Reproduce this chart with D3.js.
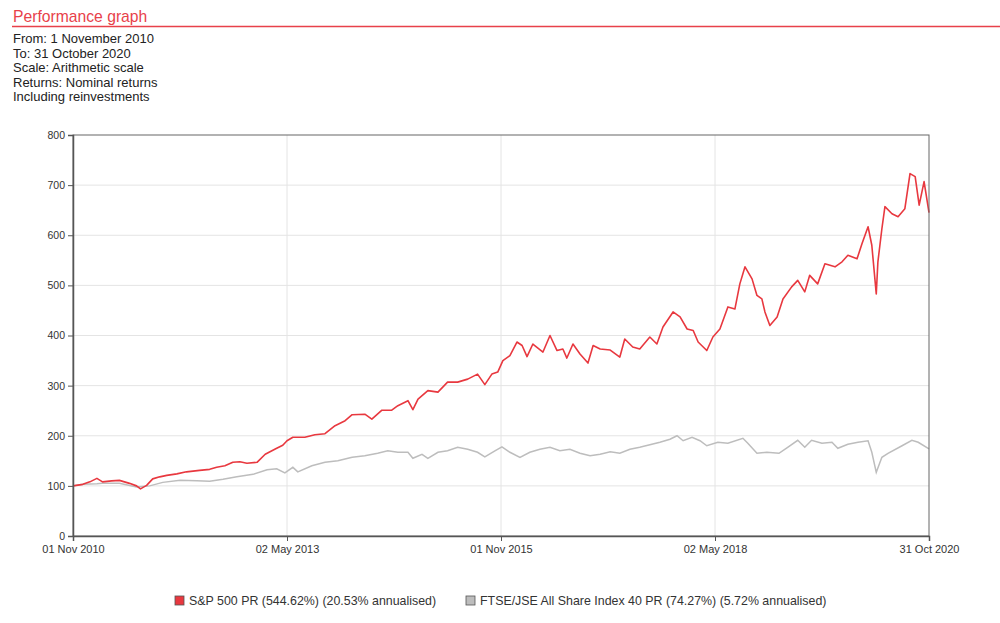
<!DOCTYPE html>
<meta charset="utf-8">
<style>
body { margin: 0; background: #fff; }
svg { font-family: "Liberation Sans", Arial, sans-serif; }
.axis text { font-size: 10.5px; fill: #333; }
.axis.x text { font-size: 11px; }
.axis path, .axis line { stroke: #555; }
.grid line { stroke: #e4e4e4; }
.info { font-size: 13px; fill: #222; }
.legend text { font-size: 12.4px; fill: #333; }
</style>
<svg width="1000" height="623"></svg>
<script src="https://d3js.org/d3.v7.min.js"></script>
<script>

// S&P 500 PR, indexed to 100
var spDates = ["2010-11-01","2010-12-13","2011-01-12","2011-02-11","2011-03-07","2011-04-15","2011-05-18","2011-06-30",
  "2011-07-30","2011-08-16","2011-09-11","2011-10-07","2011-11-06","2011-12-06","2012-01-18","2012-02-28","2012-04-24",
  "2012-06-06","2012-07-06","2012-08-10","2012-09-13","2012-10-13","2012-11-12","2012-12-25","2013-01-29","2013-03-19",
  "2013-04-14","2013-05-02","2013-05-27","2013-07-17","2013-08-29","2013-10-11","2013-11-23","2014-01-05","2014-02-04",
  "2014-03-30","2014-04-29","2014-06-11","2014-07-23","2014-08-18","2014-09-30","2014-10-21","2014-11-12","2014-12-24",
  "2015-02-05","2015-03-18","2015-04-30","2015-06-12","2015-07-24","2015-08-24","2015-09-23","2015-10-18","2015-11-09",
  "2015-12-09","2016-01-08","2016-01-30","2016-02-20","2016-03-16","2016-04-28","2016-05-28","2016-06-27","2016-07-22",
  "2016-08-08","2016-09-03","2016-10-03","2016-11-06","2016-11-28","2016-12-28","2017-02-09","2017-03-22","2017-04-12",
  "2017-05-16","2017-06-15","2017-07-28","2017-08-27","2017-09-22","2017-11-04","2017-12-04","2018-01-03","2018-01-29",
  "2018-02-19","2018-03-28","2018-04-23","2018-05-23","2018-06-26","2018-07-26","2018-08-16","2018-09-07","2018-10-07",
  "2018-10-28","2018-11-18","2018-12-01","2018-12-22","2019-01-22","2019-02-16","2019-03-25","2019-04-20","2019-05-20",
  "2019-06-10","2019-07-14","2019-08-14","2019-09-26","2019-10-26","2019-11-20","2019-12-29","2020-01-19","2020-02-14",
  "2020-03-01","2020-03-20","2020-03-27","2020-04-13","2020-04-26","2020-05-26","2020-06-21","2020-07-20","2020-08-11",
  "2020-09-02","2020-09-19","2020-10-10","2020-10-31"];
var spValues = [100,103,108,115,108,110,111,105,
  100,94,101,114,118,121,124,128,131,
  133,137,140,147,148,145,147,163,175,
  181,190,197,197,202,204,220,230,242,
  243,233,251,251,260,270,252,273,290,
  287,307,307,313,323,302,323,327,350,
  360,387,380,358,383,367,400,370,373,
  355,383,363,345,380,373,371,357,393,
  377,373,397,383,417,447,437,413,410,
  387,370,397,413,457,453,503,537,513,
  480,473,447,420,437,473,497,510,487,
  520,503,543,537,547,560,553,583,617,
  580,483,547,613,657,643,637,653,723,
  717,660,707,645];

// FTSE/JSE All Share Index 40 PR, indexed to 100
var jseDates = ["2010-11-01","2010-12-13","2011-02-11","2011-03-07","2011-05-18","2011-07-30","2011-09-24","2011-11-19",
  "2012-02-01","2012-04-12","2012-06-06","2012-08-02","2012-09-30","2012-12-08","2013-02-06","2013-03-19","2013-04-23",
  "2013-05-27","2013-06-17","2013-08-16","2013-10-11","2013-12-05","2014-02-04","2014-03-30","2014-05-24","2014-07-06",
  "2014-08-18","2014-09-30","2014-10-21","2014-11-29","2014-12-24","2015-02-05","2015-03-18","2015-04-30","2015-06-12",
  "2015-07-24","2015-08-24","2015-10-06","2015-11-05","2015-12-09","2016-01-21","2016-03-03","2016-04-15","2016-05-28",
  "2016-07-09","2016-08-21","2016-10-03","2016-11-15","2016-12-28","2017-02-09","2017-03-22","2017-05-04","2017-06-15",
  "2017-07-28","2017-09-09","2017-10-22","2017-11-21","2017-12-17","2018-01-24","2018-02-27","2018-03-28","2018-05-14",
  "2018-06-26","2018-08-29","2018-09-19","2018-10-28","2018-12-09","2019-01-30","2019-03-08","2019-04-20","2019-05-20",
  "2019-06-18","2019-08-01","2019-09-13","2019-10-08","2019-11-20","2020-01-02","2020-02-14","2020-03-01","2020-03-20",
  "2020-04-13","2020-05-09","2020-07-08","2020-08-19","2020-09-15","2020-10-31"];
var jseValues = [100,103,104,105,105,98,100,107,
  111,110,109,113,118,123,132,134,126,
  137,128,140,147,150,157,160,165,170,
  167,167,155,163,155,167,170,177,173,
  167,158,170,178,167,157,167,173,177,
  170,173,165,160,163,168,165,173,177,
  182,187,193,200,190,197,190,180,187,
  185,195,185,165,167,165,177,191,177,
  191,185,187,175,183,187,190,167,127,
  157,165,180,191,187,174];

var xTickDates = ["2010-11-01","2013-05-02","2015-11-01","2018-05-02","2020-10-31"];
var xTickLabels = ["01 Nov 2010","02 May 2013","01 Nov 2015","02 May 2018","31 Oct 2020"];
var yTicks = [0,100,200,300,400,500,600,700,800];

var infoLines = ["From: 1 November 2010","To: 31 October 2020","Scale: Arithmetic scale",
  "Returns: Nominal returns","Including reinvestments"];
var legendLabels = ["S&P 500 PR (544.62%) (20.53% annualised)",
  "FTSE/JSE All Share Index 40 PR (74.27%) (5.72% annualised)"];

var parse = d3.timeParse("%Y-%m-%d");

var svg = d3.select("svg");

// header
svg.append("text")
    .attr("x", 13).attr("y", 22)
    .attr("font-size", "15.7px").attr("fill", "#e8414a")
    .text("Performance graph");
svg.append("line")
    .attr("x1", 12).attr("x2", 1000).attr("y1", 26.5).attr("y2", 26.5)
    .attr("stroke", "#e8414a").attr("stroke-width", 1.3);
svg.selectAll(".info").data(infoLines).enter().append("text")
    .attr("class", "info")
    .attr("x", 13)
    .attr("y", function(d, i) { return 43 + i * 14.6; })
    .text(function(d) { return d; });

var margin = {left: 73, top: 135, right: 71, bottom: 87},
    width = 1000 - margin.left - margin.right,
    height = 623 - margin.top - margin.bottom;

var g = svg.append("g").attr("transform", "translate(" + margin.left + "," + margin.top + ")");

var x = d3.scaleTime()
    .domain([parse("2010-11-01"), parse("2020-10-31")])
    .range([0, width]);
var y = d3.scaleLinear().domain([0, 800]).range([height, 0]);

// grid
g.append("g").attr("class", "grid")
  .selectAll("line.h").data(yTicks.slice(1, -1)).enter().append("line")
    .attr("x1", 0).attr("x2", width)
    .attr("y1", function(d) { return y(d); }).attr("y2", function(d) { return y(d); });
g.append("g").attr("class", "grid")
  .selectAll("line.v").data(xTickDates.slice(1, -1)).enter().append("line")
    .attr("y1", 0).attr("y2", height)
    .attr("x1", function(d) { return x(parse(d)); }).attr("x2", function(d) { return x(parse(d)); });

// lines
var line = d3.line()
    .x(function(d) { return x(d.date); })
    .y(function(d) { return y(d.value); });

function series(dates, values) {
  return dates.map(function(d, i) { return {date: parse(d), value: values[i]}; });
}

g.append("path")
    .datum(series(jseDates, jseValues))
    .attr("fill", "none").attr("stroke", "#bdbdbd").attr("stroke-width", 1.5)
    .attr("d", line);
g.append("path")
    .datum(series(spDates, spValues))
    .attr("fill", "none").attr("stroke", "#e8383f").attr("stroke-width", 1.6)
    .attr("stroke-linejoin", "round")
    .attr("d", line);

// frame
g.append("rect")
    .attr("width", width).attr("height", height)
    .attr("fill", "none").attr("stroke", "#666").attr("stroke-width", 1);

// axes
g.append("g").attr("class", "axis x")
    .attr("transform", "translate(0," + height + ")")
    .call(d3.axisBottom(x)
      .tickValues(xTickDates.map(parse))
      .tickSize(5)
      .tickFormat(function(d, i) { return xTickLabels[i]; }))
    .call(function(a) { a.selectAll("text").attr("dy", "0.85em"); a.select(".domain").attr("stroke-width", 1.5); });

g.append("g").attr("class", "axis y")
    .call(d3.axisLeft(y).tickValues(yTicks).tickSize(5).tickPadding(3))
    .call(function(a) { a.select(".domain").attr("stroke-width", 1.5); });

// legend
var legendX = [175, 466];
var legendColors = ["#e8383f", "#bdbdbd"];
var legend = svg.append("g").attr("class", "legend");
legendLabels.forEach(function(label, i) {
  legend.append("rect")
      .attr("x", legendX[i]).attr("y", 596)
      .attr("width", 9).attr("height", 9)
      .attr("fill", legendColors[i]).attr("stroke", "#555").attr("stroke-width", 0.8);
  legend.append("text")
      .attr("x", legendX[i] + 14).attr("y", 605)
      .text(label);
});

</script>
